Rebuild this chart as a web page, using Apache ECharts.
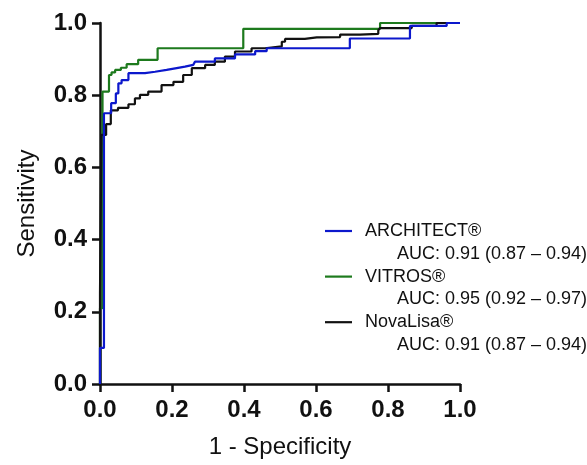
<!DOCTYPE html>
<html>
<head>
<meta charset="utf-8">
<script src="https://cdn.jsdelivr.net/npm/echarts@6/dist/echarts.min.js"></script>
<style>
  html, body { margin: 0; padding: 0; background: #fff; }
  #chart { width: 587px; height: 465px; }
</style>
</head>
<body>
<div id="chart"></div>
<script>
// 每条ROC曲线: 在 fpr 处上升到 tpr (阶梯)
const architectFpr = [0, 0, 0.011, 0.031, 0.044, 0.051, 0.060, 0.079, 0.125, 0.153, 0.185, 0.213, 0.236, 0.259, 0.264, 0.319, 0.375, 0.431, 0.463, 0.694, 0.861, 0.963, 1.0];
const architectTpr = [0, 0.10, 0.75, 0.778, 0.805, 0.833, 0.842, 0.861, 0.865, 0.870, 0.875, 0.879, 0.884, 0.888, 0.893, 0.902, 0.913, 0.922, 0.930, 0.957, 0.992, 1.0, 1.0];

const vitrosFpr = [0, 0, 0.007, 0.025, 0.032, 0.042, 0.058, 0.074, 0.106, 0.160, 0.398, 0.778, 1.0];
const vitrosTpr = [0, 0.21, 0.81, 0.856, 0.863, 0.870, 0.876, 0.886, 0.898, 0.930, 0.984, 1.0, 1.0];

const novalisaFpr = [0, 0, 0.004, 0.017, 0.030, 0.050, 0.079, 0.097, 0.111, 0.134, 0.171, 0.204, 0.231, 0.255, 0.292, 0.319, 0.347, 0.375, 0.421, 0.458, 0.505, 0.514, 0.569, 0.602, 0.667, 0.722, 0.773, 0.778, 0.866, 0.935, 1.0];
const novalisaTpr = [0, 0.25, 0.69, 0.72, 0.758, 0.765, 0.775, 0.791, 0.801, 0.810, 0.828, 0.837, 0.856, 0.875, 0.884, 0.893, 0.907, 0.921, 0.930, 0.935, 0.948, 0.956, 0.960, 0.961, 0.968, 0.970, 0.980, 0.986, 0.992, 1.0, 1.0];

const seriesNames = ['ARCHITECT®', 'VITROS®', 'NovaLisa®'];
const aucTexts = ['AUC: 0.91 (0.87 – 0.94)', 'AUC: 0.95 (0.92 – 0.97)', 'AUC: 0.91 (0.87 – 0.94)'];
const seriesColors = ['#0c18cc', '#1d7a1d', '#111111'];

const FONT = 'Liberation Sans, Arial, sans-serif';

const zip = (xs, ys) => xs.map((x, i) => [x, ys[i]]);

const curves = [
  zip(architectFpr, architectTpr),
  zip(vitrosFpr, vitrosTpr),
  zip(novalisaFpr, novalisaTpr),
];

const chart = echarts.init(document.getElementById('chart'), null, { renderer: 'canvas' });

/**
 * 坐标轴通用配置
 */
const axisBase = (name, nameGap) => ({
  type: 'value',
  min: 0,
  max: 1,
  interval: 0.2,
  name: name,
  nameLocation: 'middle',
  nameGap: nameGap,
  nameTextStyle: { fontFamily: FONT, fontSize: 24, color: '#111' },
  axisLine: { show: true, onZero: false, lineStyle: { color: '#111', width: 2.5 } },
  axisTick: { show: true, inside: false, length: 8, lineStyle: { color: '#111', width: 2.5 } },
  axisLabel: {
    fontFamily: FONT, fontSize: 24, fontWeight: 'bold', color: '#111',
    formatter: (v) => v.toFixed(1),
  },
  splitLine: { show: false },
});

// 绘制顺序: 绿色 -> 黑色 -> 蓝色（蓝色在最上层）
const drawOrder = [1, 2, 0];
const series = drawOrder.map((i) => ({
  name: seriesNames[i],
  type: 'line',
  step: 'end',
  data: curves[i],
  symbol: 'none',
  lineStyle: { color: seriesColors[i], width: 2.2 },
  animation: false,
  z: 2 + drawOrder.indexOf(i),
}));

// 图例（自定义绘制）
const legendX = 325, legendY0 = 231, rowH = 22.8;
const legendGraphics = [];
seriesNames.forEach((name, i) => {
  const y = legendY0 + i * 2 * rowH;
  legendGraphics.push({
    type: 'line',
    shape: { x1: legendX, y1: y, x2: legendX + 27, y2: y },
    style: { stroke: seriesColors[i], lineWidth: 2.2 },
  });
  legendGraphics.push({
    type: 'text',
    x: legendX + 40, y: y,
    style: { text: name, fontFamily: FONT, fontSize: 18, fill: '#111', verticalAlign: 'middle' },
  });
  legendGraphics.push({
    type: 'text',
    x: legendX + 72, y: y + rowH,
    style: { text: aucTexts[i], fontFamily: FONT, fontSize: 18, fill: '#111', verticalAlign: 'middle' },
  });
});

const xAxis = axisBase('1 - Specificity', 51);
xAxis.axisLabel.margin = 14;
const yAxis = axisBase('Sensitivity', 61);
yAxis.axisLabel.margin = 13;

chart.setOption({
  backgroundColor: '#fff',
  animation: false,
  grid: { left: 100, right: 127, top: 23, bottom: 81, containLabel: false },
  xAxis: xAxis,
  yAxis: yAxis,
  series: series,
  graphic: legendGraphics,
});
</script>
</body>
</html>
